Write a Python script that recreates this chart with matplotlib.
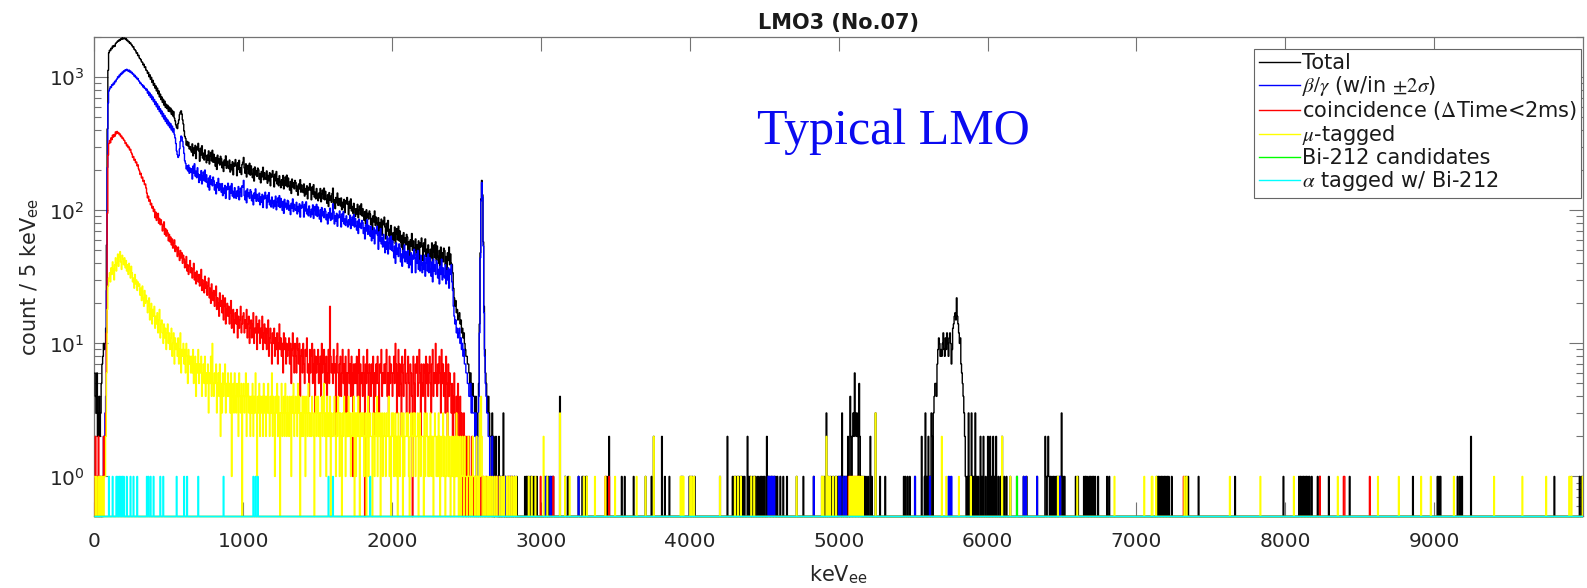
import numpy as np
import matplotlib
matplotlib.use("Agg")
import matplotlib.pyplot as plt
from matplotlib.ticker import NullLocator

plt.rcParams["font.family"] = ["DejaVu Sans"]
plt.rcParams["mathtext.fontset"] = "stix"

BIN = 5             # keV per bin
E_MAX = 10000
Y_MIN, Y_MAX = 0.5, 2000

# counts per 5 keV bin from 0 to 2700 keV, one row = 50 keV
total_low = [
    6, 4, 3, 6, 2, 3, 4, 2, 3, 5,                                   # 0
    7, 8, 10, 9, 10, 13, 55, 410, 1130, 1530,                       # 50
    1600, 1585, 1655, 1640, 1720, 1690, 1735, 1710, 1790, 1825,     # 100
    1840, 1880, 1865, 1920, 1895, 1950, 1930, 1985, 1940, 1965,     # 150
    1975, 1935, 1960, 1890, 1905, 1850, 1860, 1800, 1815, 1765,     # 200
    1745, 1690, 1700, 1625, 1610, 1585, 1520, 1530, 1455, 1465,     # 250
    1395, 1380, 1355, 1305, 1300, 1240, 1255, 1185, 1200, 1130,     # 300
    1125, 1070, 1090, 1010, 1045, 965, 1000, 915, 950, 870,         # 350
    900, 830, 862, 790, 830, 752, 790, 712, 748, 680,               # 400
    712, 648, 684, 618, 662, 594, 628, 582, 616, 556,               # 450
    598, 552, 586, 528, 566, 512, 552, 494, 470, 440,               # 500
    420, 412, 450, 478, 525, 548, 560, 530, 480, 445,               # 550
    395, 360, 348, 310, 330, 305, 325, 290, 302, 285,               # 600
    274, 316, 257, 294, 268, 308, 245, 299, 285, 319,               # 650
    279, 234, 293, 261, 306, 247, 269, 239, 285, 255,               # 700
    228, 260, 238, 280, 223, 255, 273, 235, 283, 230,               # 750
    264, 231, 215, 250, 203, 260, 227, 243, 219, 255,               # 800
    245, 209, 230, 196, 239, 218, 257, 207, 234, 214,               # 850
    206, 239, 194, 221, 202, 232, 185, 226, 215, 241,               # 900
    217, 182, 228, 203, 238, 193, 209, 186, 221, 230,               # 950
    250, 208, 190, 224, 178, 204, 218, 188, 226, 184,               # 1000
    216, 189, 176, 205, 166, 212, 185, 199, 180, 208,               # 1050
    202, 172, 189, 161, 196, 179, 211, 170, 192, 176,               # 1100
    171, 198, 160, 183, 167, 192, 153, 187, 178, 199,               # 1150
    179, 150, 187, 167, 196, 158, 172, 153, 182, 163,               # 1200
    148, 170, 155, 183, 145, 166, 178, 153, 184, 150,               # 1250
    175, 153, 142, 165, 134, 172, 150, 161, 145, 168,               # 1300
    162, 139, 152, 130, 158, 145, 170, 137, 155, 142,               # 1350
    136, 158, 128, 146, 133, 153, 122, 149, 142, 159,               # 1400
    143, 120, 150, 133, 156, 126, 137, 122, 146, 131,               # 1450
    118, 135, 124, 146, 116, 133, 142, 122, 147, 120,               # 1500
    139, 122, 113, 131, 107, 136, 119, 128, 115, 134,               # 1550
    147, 110, 120, 103, 125, 114, 135, 109, 123, 112,               # 1600
    108, 124, 101, 115, 105, 121, 96, 118, 112, 125,                # 1650
    111, 93, 117, 104, 122, 99, 107, 95, 113, 102,                  # 1700
    90, 103, 94, 111, 88, 101, 108, 93, 112, 91,                    # 1750
    103, 90, 84, 98, 79, 101, 88, 95, 86, 99,                       # 1800
    94, 78, 87, 71, 91, 82, 99, 77, 89, 80,                         # 1850
    74, 88, 69, 81, 73, 86, 65, 83, 78, 89,                         # 1900
    75, 61, 80, 70, 84, 65, 72, 62, 77, 67,                         # 1950
    57, 68, 60, 75, 56, 67, 73, 60, 76, 59,                         # 2000
    70, 58, 53, 65, 49, 68, 57, 62, 55, 66,                         # 2050
    63, 50, 58, 46, 60, 54, 67, 50, 59, 52,                         # 2100
    50, 61, 46, 55, 49, 59, 42, 57, 53, 62,                         # 2150
    54, 42, 57, 49, 61, 45, 51, 43, 55, 47,                         # 2200
    41, 51, 44, 57, 40, 49, 55, 44, 58, 42,                         # 2250
    54, 45, 40, 50, 36, 53, 43, 48, 41, 52,                         # 2300
    50, 39, 45, 35, 48, 42, 53, 39, 47, 40,                         # 2350
    39, 34, 26, 22, 19, 21, 17, 18, 15, 16,                         # 2400
    17, 14, 15, 12, 13, 11, 12, 10, 9, 8,                           # 2450
    8, 7, 7, 6, 5, 6, 5, 4, 5, 4,                                   # 2500
    4, 3, 4, 2, 2, 3, 5, 14, 48, 122,                               # 2550
    168, 131, 58, 19, 9, 6, 5, 4, 3, 4,                             # 2600
    3, 2, 2, 1, 3, 1, 2, 0, 1, 2,                                   # 2650
]

betagamma_low = [
    0, 0, 0, 1, 0, 0, 0, 1, 0, 0,                                   # 0
    0, 1, 2, 1, 3, 4, 25, 210, 640, 790,                            # 50
    815, 850, 838, 880, 870, 905, 890, 935, 925, 960,               # 100
    975, 1010, 995, 1040, 1025, 1070, 1055, 1095, 1080, 1120,       # 150
    1105, 1140, 1125, 1150, 1130, 1110, 1135, 1095, 1115, 1080,     # 200
    1090, 1055, 1060, 1020, 1035, 995, 1005, 970, 980, 945,         # 250
    930, 900, 905, 875, 880, 845, 860, 825, 830, 800,               # 300
    815, 760, 785, 730, 762, 705, 738, 680, 712, 655,               # 350
    682, 625, 655, 600, 632, 575, 606, 552, 580, 532,               # 400
    558, 506, 536, 486, 516, 466, 495, 448, 478, 433,               # 450
    460, 418, 448, 402, 430, 388, 412, 372, 350, 318,               # 500
    280, 262, 250, 258, 290, 330, 362, 355, 330, 300,               # 550
    268, 236, 226, 205, 216, 198, 219, 190, 208, 193,               # 600
    205, 172, 215, 191, 224, 181, 197, 176, 209, 187,               # 650
    162, 185, 169, 199, 158, 182, 194, 167, 201, 164,               # 700
    185, 162, 150, 175, 142, 182, 158, 170, 153, 178,               # 750
    167, 142, 156, 133, 162, 148, 174, 141, 159, 145,               # 800
    137, 159, 129, 147, 134, 154, 123, 150, 143, 160,               # 850
    145, 121, 152, 135, 159, 128, 139, 124, 148, 132,               # 900
    123, 140, 128, 151, 120, 138, 147, 127, 153, 150,               # 950
    168, 129, 120, 140, 114, 145, 127, 136, 123, 143,               # 1000
    138, 118, 130, 110, 135, 123, 145, 117, 132, 121,               # 1050
    117, 135, 110, 126, 115, 132, 105, 128, 122, 137,               # 1100
    124, 104, 130, 116, 136, 110, 119, 106, 126, 113,               # 1150
    104, 119, 108, 128, 101, 116, 124, 107, 129, 105,               # 1200
    123, 108, 100, 117, 95, 121, 106, 113, 102, 119,                # 1250
    117, 100, 109, 93, 113, 104, 122, 98, 111, 102,                 # 1300
    100, 115, 94, 107, 98, 112, 89, 109, 104, 116,                  # 1350
    106, 89, 111, 99, 116, 94, 102, 91, 108, 97,                    # 1400
    89, 102, 93, 110, 87, 100, 107, 92, 111, 90,                    # 1450
    106, 93, 86, 101, 82, 105, 91, 98, 88, 103,                     # 1500
    99, 85, 93, 79, 96, 88, 104, 84, 95, 86,                        # 1550
    112, 98, 79, 91, 83, 95, 76, 92, 88, 99,                        # 1600
    89, 75, 94, 83, 98, 79, 86, 77, 91, 82,                         # 1650
    75, 85, 78, 92, 73, 84, 89, 77, 93, 75,                         # 1700
    87, 76, 71, 83, 67, 86, 75, 80, 73, 84,                         # 1750
    81, 67, 74, 61, 78, 70, 85, 66, 77, 69,                         # 1800
    64, 76, 59, 70, 62, 74, 56, 71, 67, 76,                         # 1850
    65, 51, 69, 59, 73, 56, 62, 53, 66, 58,                         # 1900
    48, 58, 51, 64, 47, 57, 62, 51, 64, 50,                         # 1950
    59, 49, 44, 54, 40, 57, 47, 52, 45, 56,                         # 2000
    52, 41, 47, 38, 50, 44, 55, 41, 49, 43,                         # 2050
    40, 50, 37, 45, 39, 48, 34, 46, 43, 51,                         # 2100
    44, 34, 47, 40, 50, 36, 42, 35, 46, 39,                         # 2150
    34, 41, 36, 46, 32, 40, 44, 35, 47, 34,                         # 2200
    44, 36, 32, 41, 29, 43, 35, 39, 33, 42,                         # 2250
    40, 31, 36, 28, 38, 33, 43, 30, 37, 32,                         # 2300
    31, 39, 28, 35, 30, 37, 26, 36, 33, 39,                         # 2350
    29, 25, 19, 16, 14, 15, 12, 13, 11, 12,                         # 2400
    13, 10, 11, 9, 10, 8, 9, 7, 7, 6,                               # 2450
    6, 5, 5, 4, 4, 5, 3, 4, 3, 3,                                   # 2500
    3, 2, 3, 1, 1, 2, 4, 12, 44, 118,                               # 2550
    162, 126, 54, 17, 8, 5, 4, 3, 3, 2,                             # 2600
    2, 1, 1, 1, 2, 0, 1, 0, 1, 1,                                   # 2650
]

coinc_low = [
    0, 2, 0, 1, 0, 2, 0, 0, 1, 0,                                   # 0
    1, 0, 2, 1, 2, 3, 12, 95, 260, 318,                             # 50
    335, 322, 351, 340, 368, 355, 372, 361, 389, 376,               # 100
    392, 380, 384, 370, 375, 358, 362, 347, 350, 338,               # 150
    335, 318, 322, 305, 310, 296, 300, 284, 288, 272,               # 200
    265, 250, 254, 238, 242, 228, 231, 216, 220, 205,               # 250
    198, 186, 190, 175, 178, 165, 168, 156, 158, 147,               # 300
    135, 124, 128, 117, 120, 110, 113, 104, 107, 98,                # 350
    102, 88, 97, 84, 90, 95, 80, 87, 78, 85,                        # 400
    79, 70, 76, 82, 66, 73, 64, 71, 68, 59,                         # 450
    66, 58, 63, 55, 61, 52, 57, 60, 49, 54,                         # 500
    51, 45, 53, 47, 42, 50, 44, 48, 40, 46,                         # 550
    43, 37, 41, 45, 35, 39, 33, 38, 42, 34,                         # 600
    37, 31, 36, 40, 30, 34, 28, 35, 32, 29,                         # 650
    33, 27, 31, 36, 25, 30, 28, 24, 32, 26,                         # 700
    29, 23, 27, 31, 22, 26, 20, 28, 24, 21,                         # 750
    25, 19, 23, 27, 18, 22, 20, 16, 24, 19,                         # 800
    21, 17, 23, 15, 19, 22, 14, 18, 20, 16,                         # 850
    19, 14, 17, 21, 13, 16, 18, 12, 15, 17,                         # 900
    14, 18, 11, 16, 13, 15, 19, 12, 14, 16,                         # 950
    17, 12, 15, 13, 18, 11, 14, 16, 10, 13,                         # 1000
    15, 11, 14, 17, 10, 13, 12, 16, 9, 14,                          # 1050
    12, 15, 10, 13, 11, 16, 9, 12, 14, 10,                          # 1100
    13, 9, 12, 15, 8, 11, 13, 10, 7, 12,                            # 1150
    10, 13, 8, 11, 9, 12, 7, 10, 14, 9,                             # 1200
    11, 8, 10, 6, 12, 9, 11, 7, 10, 8,                              # 1250
    9, 11, 7, 10, 5, 9, 12, 8, 6, 10,                               # 1300
    8, 6, 11, 9, 7, 10, 4, 8, 9, 6,                                 # 1350
    10, 7, 5, 9, 8, 11, 6, 7, 4, 9,                                 # 1400
    6, 8, 10, 5, 7, 9, 3, 8, 6, 7,                                  # 1450
    9, 5, 7, 8, 4, 10, 6, 7, 9, 5,                                  # 1500
    7, 8, 3, 6, 9, 5, 19, 8, 6, 7,                                  # 1550
    5, 9, 6, 7, 2, 8, 10, 6, 4, 7,                                  # 1600
    8, 4, 6, 9, 5, 7, 3, 8, 6, 2,                                   # 1650
    6, 9, 5, 7, 4, 8, 6, 1, 7, 5,                                   # 1700
    7, 5, 8, 4, 6, 9, 3, 7, 5, 6,                                   # 1750
    4, 8, 6, 0, 7, 5, 9, 6, 3, 7,                                   # 1800
    6, 4, 7, 5, 8, 2, 6, 4, 7, 5,                                   # 1850
    8, 5, 3, 7, 6, 9, 4, 6, 5, 7,                                   # 1900
    5, 7, 9, 4, 6, 3, 8, 5, 7, 6,                                   # 1950
    4, 6, 8, 5, 10, 7, 3, 6, 9, 4,                                  # 2000
    7, 5, 2, 8, 6, 4, 7, 9, 5, 3,                                   # 2050
    6, 8, 5, 3, 7, 6, 4, 0, 8, 5,                                   # 2100
    3, 7, 6, 8, 4, 5, 9, 6, 2, 7,                                   # 2150
    5, 4, 7, 6, 3, 8, 5, 7, 4, 6,                                   # 2200
    8, 5, 3, 7, 9, 4, 6, 5, 10, 6,                                  # 2250
    4, 7, 5, 8, 6, 3, 9, 5, 7, 4,                                   # 2300
    6, 3, 8, 5, 2, 7, 4, 6, 5, 3,                                   # 2350
    5, 2, 4, 6, 3, 1, 4, 2, 5, 3,                                   # 2400
    2, 4, 1, 3, 2, 0, 3, 1, 2, 0,                                   # 2450
    2, 1, 0, 2, 1, 0, 1, 2, 0, 1,                                   # 2500
    0, 1, 0, 0, 1, 0, 0, 1, 0, 0,                                   # 2550
    1, 0, 1, 0, 0, 0, 1, 0, 0, 0,                                   # 2600
    0, 0, 1, 0, 0, 0, 0, 0, 1, 0,                                   # 2650
]

mutag_low = [
    1, 0, 1, 0, 0, 1, 0, 1, 0, 1,                                   # 0
    0, 1, 0, 1, 1, 2, 6, 18, 27, 31,                                # 50
    34, 29, 37, 33, 41, 36, 30, 39, 44, 35,                         # 100
    40, 47, 38, 45, 49, 41, 36, 46, 43, 39,                         # 150
    44, 37, 42, 35, 39, 33, 40, 36, 31, 38,                         # 200
    34, 29, 31, 26, 33, 28, 30, 25, 29, 27,                         # 250
    28, 23, 26, 21, 27, 22, 19, 25, 20, 23,                         # 300
    21, 17, 19, 22, 15, 18, 20, 14, 18, 16,                         # 350
    19, 13, 16, 14, 17, 12, 15, 18, 11, 14,                         # 400
    15, 12, 10, 14, 11, 13, 9, 12, 14, 10,                          # 450
    12, 9, 11, 13, 8, 10, 12, 7, 11, 9,                             # 500
    10, 8, 11, 7, 9, 12, 6, 9, 8, 10,                               # 550
    7, 9, 6, 10, 8, 5, 9, 7, 8, 6,                                  # 600
    8, 6, 9, 5, 7, 8, 4, 7, 6, 9,                                   # 650
    5, 7, 6, 8, 4, 6, 7, 5, 8, 4,                                   # 700
    6, 5, 7, 3, 6, 5, 8, 4, 10, 5,                                  # 750
    4, 6, 5, 7, 3, 5, 6, 4, 7, 2,                                   # 800
    5, 3, 6, 4, 5, 7, 3, 5, 4, 6,                                   # 850
    4, 5, 3, 6, 1, 4, 5, 3, 6, 4,                                   # 900
    3, 5, 4, 2, 6, 4, 3, 5, 0, 4,                                   # 950
    5, 3, 4, 6, 2, 4, 5, 3, 4, 2,                                   # 1000
    4, 3, 5, 2, 4, 3, 6, 3, 1, 4,                                   # 1050
    3, 5, 2, 4, 3, 4, 2, 5, 3, 4,                                   # 1100
    2, 4, 3, 5, 3, 2, 4, 3, 6, 2,                                   # 1150
    4, 3, 1, 4, 3, 5, 2, 4, 3, 0,                                   # 1200
    3, 5, 2, 3, 4, 2, 5, 3, 2, 4,                                   # 1250
    3, 2, 4, 3, 1, 4, 3, 5, 2, 3,                                   # 1300
    4, 3, 2, 5, 3, 4, 0, 3, 2, 4,                                   # 1350
    2, 4, 3, 1, 4, 3, 2, 5, 3, 2,                                   # 1400
    3, 2, 4, 3, 2, 0, 3, 4, 2, 3,                                   # 1450
    4, 2, 3, 1, 3, 4, 2, 3, 5, 2,                                   # 1500
    3, 1, 4, 2, 3, 2, 4, 0, 3, 2,                                   # 1550
    2, 3, 4, 2, 1, 3, 2, 4, 3, 1,                                   # 1600
    3, 2, 0, 3, 2, 4, 3, 1, 2, 3,                                   # 1650
    2, 4, 2, 3, 1, 2, 3, 2, 4, 0,                                   # 1700
    3, 1, 3, 2, 4, 2, 0, 3, 2, 3,                                   # 1750
    2, 3, 1, 2, 3, 0, 2, 4, 1, 2,                                   # 1800
    3, 2, 2, 0, 3, 2, 1, 3, 2, 4,                                   # 1850
    1, 3, 2, 3, 0, 2, 3, 1, 2, 3,                                   # 1900
    2, 1, 3, 2, 2, 4, 1, 2, 0, 3,                                   # 1950
    2, 3, 1, 2, 3, 1, 2, 0, 3, 2,                                   # 2000
    1, 2, 3, 2, 0, 3, 1, 2, 2, 3,                                   # 2050
    2, 3, 1, 0, 2, 3, 2, 1, 3, 2,                                   # 2100
    3, 1, 2, 2, 3, 0, 2, 3, 1, 2,                                   # 2150
    2, 2, 0, 3, 1, 2, 3, 2, 1, 2,                                   # 2200
    1, 3, 2, 1, 2, 0, 2, 3, 2, 1,                                   # 2250
    2, 1, 3, 2, 0, 2, 1, 2, 3, 1,                                   # 2300
    2, 0, 1, 2, 3, 1, 2, 1, 0, 2,                                   # 2350
    1, 2, 1, 0, 2, 1, 3, 1, 2, 0,                                   # 2400
    1, 2, 0, 1, 2, 1, 0, 2, 1, 1,                                   # 2450
    0, 1, 2, 1, 0, 1, 1, 0, 2, 1,                                   # 2500
    1, 0, 1, 2, 0, 1, 0, 3, 1, 4,                                   # 2550
    2, 0, 0, 1, 0, 1, 0, 0, 1, 0,                                   # 2600
    0, 1, 0, 0, 1, 0, 0, 1, 0, 0,                                   # 2650
]

# sparse part: bin start (keV) of single counts, and bins with more than one
total_ones = [
    2700, 2705, 2725, 2740, 2760, 2775, 2790, 2805, 2820, 2835, 2890, 2900,
    2910, 2925, 2935, 2950, 2970, 3020, 3035, 3050, 3065, 3080, 3160, 3180,
    3250, 3275, 3300, 3305, 3440, 3540, 3560, 3620, 3700, 3740, 3830, 3860,
    3940, 3950, 3995, 4005, 4015, 4030, 4200, 4285, 4295, 4305, 4315, 4325,
    4335, 4345, 4355, 4365, 4395, 4405, 4420, 4430, 4440, 4455, 4470, 4480,
    4490, 4500, 4525, 4535, 4545, 4555, 4565, 4575, 4585, 4605, 4625, 4650,
    4715, 4760, 4830, 4885, 4900, 4930, 4945, 4960, 4975, 4985, 4995, 5005,
    5010, 5025, 5035, 5040, 5050, 5065, 5085, 5130, 5145, 5150, 5160, 5170,
    5180, 5195, 5220, 5275, 5310, 5435, 5445, 5460, 5475, 5510, 5575, 5590,
    5610, 5850, 5860, 5880, 5895, 5905, 5925, 5935, 5960, 5985, 6025, 6045,
    6070, 6085, 6110, 6125, 6150, 6195, 6240, 6260, 6330, 6390, 6400, 6410,
    6420, 6430, 6440, 6450, 6460, 6470, 6480, 6490, 6505, 6515, 6590, 6605,
    6645, 6655, 6665, 6680, 6690, 6700, 6710, 6720, 6740, 6800, 6815, 7135,
    7145, 7155, 7165, 7175, 7185, 7195, 7205, 7215, 7235, 7330, 7345, 7415,
    7660, 7985, 8090, 8100, 8110, 8120, 8130, 8140, 8150, 8160, 8175, 8215,
    8230, 8290, 8430, 8855, 9020, 9030, 9040, 9155, 9170, 9185, 9805, 9975,
    9990,
]
total_many = {
    2715: 2, 2745: 3, 3125: 4, 3455: 2, 3755: 2, 3810: 2, 4250: 2, 4385: 2,
    4515: 2, 4915: 3, 5020: 3, 5060: 2, 5075: 4, 5080: 2, 5090: 2, 5095: 3,
    5100: 2, 5105: 6, 5110: 3, 5115: 2, 5120: 3, 5125: 2, 5135: 5, 5140: 2,
    5210: 2, 5245: 3, 5555: 2, 5580: 3, 5600: 2, 5620: 3, 5625: 2, 5635: 3,
    5640: 4, 5645: 5, 5650: 5, 5655: 4, 5660: 7, 5665: 9, 5670: 11, 5675: 10,
    5680: 8, 5685: 9, 5690: 8, 5695: 10, 5700: 12, 5705: 9, 5710: 8, 5715: 11,
    5720: 9, 5725: 12, 5730: 10, 5735: 8, 5740: 11, 5745: 12, 5750: 10,
    5755: 7, 5760: 9, 5765: 13, 5770: 14, 5775: 16, 5780: 17, 5785: 15,
    5790: 22, 5795: 16, 5800: 14, 5805: 12, 5810: 10, 5815: 11, 5820: 7,
    5825: 6, 5830: 5, 5835: 4, 5840: 3, 5845: 2, 5870: 3, 5890: 3, 5915: 3,
    5950: 2, 5970: 2, 6000: 2, 6015: 2, 6035: 2, 6055: 2, 6095: 2, 6385: 2,
    6405: 2, 6495: 3, 9245: 2,
}
betagamma_ones = [
    2700, 2710, 2730, 2760, 2790, 2820, 3025, 3060, 3075, 3160, 3250, 3285,
    4525, 4535, 4545, 4555, 4565, 4830, 5000, 5010, 5030, 5045, 5510, 5610,
    5735, 5745, 5755, 6240, 6255, 6330, 6485,
]
coinc_ones = [
    2705, 2745, 2780, 2800, 2995, 3080, 3430, 3455, 5065, 5075, 5085, 5095,
    5105, 5115, 5125, 5135, 7315, 8230, 8390, 8395, 8565,
]
mutag_ones = [
    2700, 2720, 2735, 2750, 2770, 2785, 2800, 2815, 2830, 2915, 2935, 2960,
    3040, 3160, 3190, 3285, 3305, 3360, 3430, 3495, 3640, 3700, 3935, 3945,
    3955, 4000, 4010, 4025, 4200, 4300, 4320, 4340, 4410, 4430, 4715, 4885,
    4895, 4925, 4940, 4960, 4980, 5070, 5080, 5090, 5100, 5110, 5120, 5130,
    5140, 5150, 5160, 5720, 5805, 5885, 6150, 6470, 6600, 6850, 7050, 7100,
    7105, 7130, 7320, 7335, 7625, 7830, 8055, 8350, 8620, 8760, 8910, 8975,
    9130, 9400, 9590, 9750, 9905, 9920, 9995,
]
mutag_many = {3015: 2, 3125: 3, 3755: 2, 4915: 2, 5245: 3, 5690: 2, 6095: 2}
bi212_ones = [6195]
alpha_ones = [
    95, 120, 145, 155, 165, 175, 185, 195, 215, 240, 260, 285, 350, 360, 375,
    395, 440, 460, 550, 600, 620, 695, 865, 1065, 1080, 1095, 1570, 1600, 1850,
]


def spectrum(low=(), ones=(), many=None):
    h = np.zeros(E_MAX // BIN)
    h[:len(low)] = low
    for e in ones:
        h[e // BIN] = max(h[e // BIN], 1)
    for e, n in (many or {}).items():
        h[e // BIN] = n
    return h


series = [
    (spectrum(total_low, total_ones, total_many), "black", "Total"),
    (spectrum(betagamma_low, betagamma_ones), "blue",
     r"$\beta/\gamma$ (w/in $\pm2\sigma$)"),
    (spectrum(coinc_low, coinc_ones), "red",
     r"coincidence ($\Delta$Time<2ms)"),
    (spectrum(mutag_low, mutag_ones, mutag_many), "yellow", r"$\mu$-tagged"),
    (spectrum(ones=bi212_ones), "lime", "Bi-212 candidates"),
    (spectrum(ones=alpha_ones), "cyan", r"$\alpha$ tagged w/ Bi-212"),
]

edges = np.arange(0, E_MAX + BIN, BIN)

fig = plt.figure(figsize=(15.87, 5.88), dpi=100)
ax = fig.add_axes([0.0595, 0.1216, 0.938, 0.815])

# empty bins sit on the lower edge of the log axis
for h, col, lab in series:
    ax.stairs(np.where(h > 0, h, Y_MIN), edges, baseline=None,
              edgecolor=col, lw=1.0, label=lab, zorder=3, clip_on=False)

ax.set_yscale("log")
ax.set_xlim(0, E_MAX)
ax.set_ylim(Y_MIN, Y_MAX)
ax.set_xticks(np.arange(0, E_MAX, 1000))
ax.xaxis.set_minor_locator(NullLocator())

for s in ax.spines.values():
    s.set_color("0.45")
    s.set_linewidth(0.9)
ax.tick_params(which="both", direction="in", top=True, right=True,
               colors="0.45", labelcolor="0.15", labelsize=14.5, width=0.8)
ax.tick_params(which="major", length=10)
ax.tick_params(which="minor", length=5)
ax.tick_params(axis="x", pad=11)
ax.tick_params(axis="y", pad=7)

ax.set_title("LMO3 (No.07)", fontsize=15, fontweight="bold", color="0.1", pad=6)
ax.set_xlabel(r"keV$_{\mathregular{ee}}$", fontsize=15, color="0.15", labelpad=9)
ax.set_ylabel(r"count / 5 keV$_{\mathregular{ee}}$", fontsize=15, color="0.15",
              labelpad=6)

ax.text(0.5364, 0.8034, "Typical LMO", transform=ax.transAxes,
        ha="center", va="center", family="Liberation Serif", fontsize=36,
        color="#0a0af0")

leg = ax.legend(loc="upper right", bbox_to_anchor=(0.9987, 0.9756),
                fontsize=15, frameon=True, fancybox=False, framealpha=1,
                edgecolor="0.4", handlelength=2.0, handletextpad=0.1,
                labelspacing=0.05, borderpad=0.2, borderaxespad=0)
leg.get_frame().set_linewidth(0.8)
for t in leg.get_texts():
    t.set_color("0.1")

fig.savefig("out.png", dpi=100)
